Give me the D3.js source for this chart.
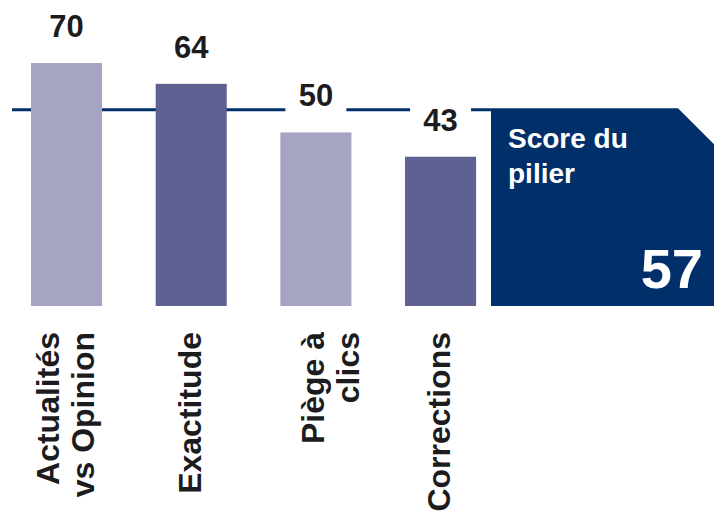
<!DOCTYPE html>
<html>
<head>
<meta charset="utf-8">
<script src="https://cdn.jsdelivr.net/npm/d3@7"></script>
<style>
  html, body { margin: 0; padding: 0; background: #ffffff; }
  svg { display: block; }
  text { font-family: "Liberation Sans", Arial, Helvetica, sans-serif; font-weight: bold; }
</style>
</head>
<body>
<script>
// Pillar sub-scores
const categories = ["Actualités vs Opinion", "Exactitude", "Piège à clics", "Corrections"];
const categoryLines = [["Actualités", "vs Opinion"], ["Exactitude"], ["Piège à", "clics"], ["Corrections"]];
const values = [70, 64, 50, 43];
const pillarLabel = ["Score du", "pilier"];
const pillarScore = 57;

const W = 714, H = 511;
const barColors = ["#a5a5c3", "#5e6191", "#a5a5c3", "#5e6191"];
const navy = "#012f6a";
const ink = "#1c1c1e";

const svg = d3.select("body").append("svg")
  .attr("width", W).attr("height", H);

const x = d3.scaleBand()
  .domain(categories)
  .range([4.2, 502.9])
  .paddingInner(0.43)
  .paddingOuter(0.215);

const y = d3.scaleLinear().domain([0, 70]).range([306, 63]);

const boxLeft = 491;

// Pillar score reference line (drawn beneath the bars)
svg.append("line")
  .attr("x1", 12).attr("x2", boxLeft)
  .attr("y1", y(pillarScore) + 1.5).attr("y2", y(pillarScore) + 1.5)
  .attr("stroke", navy).attr("stroke-width", 3);

// Bars
svg.selectAll("rect.bar")
  .data(values)
  .join("rect")
  .attr("class", "bar")
  .attr("x", (d, i) => x(categories[i]))
  .attr("y", d => y(d))
  .attr("width", x.bandwidth())
  .attr("height", d => y(0) - y(d))
  .attr("fill", (d, i) => barColors[i]);

// Value labels on a white plate so they interrupt the reference line
const valueG = svg.selectAll("g.value")
  .data(values)
  .join("g")
  .attr("class", "value")
  .attr("transform", (d, i) => `translate(${x(categories[i]) + x.bandwidth() / 2},${y(d) - 26})`);

valueG.append("rect")
  .attr("x", -30.5).attr("y", -28)
  .attr("width", 61).attr("height", 36)
  .attr("fill", "#ffffff");

valueG.append("text")
  .attr("text-anchor", "middle")
  .attr("font-size", 31)
  .attr("fill", ink)
  .text(d => d);

// Rotated category labels
const lineGap = 35;
const labelShift = { "Piège à clics": 16 };
const catG = svg.selectAll("g.cat")
  .data(categories)
  .join("g")
  .attr("class", "cat")
  .attr("transform", (c, i) => {
    const n = categoryLines[i].length;
    const cx = x(c) + x.bandwidth() / 2 + (labelShift[c] || 0);
    return `translate(${cx + 9.5 - (n - 1) * lineGap / 2},332) rotate(-90)`;
  });

catG.selectAll("text")
  .data((c, i) => categoryLines[i])
  .join("text")
  .attr("text-anchor", "end")
  .attr("x", 0)
  .attr("y", (d, j) => j * lineGap)
  .attr("font-size", 32)
  .attr("fill", ink)
  .text(d => d);

// Pillar score panel with clipped top-right corner
const panelTop = y(pillarScore), panelBottom = y(0), cut = 36;
svg.append("path")
  .attr("d", `M${boxLeft},${panelTop} H${W - cut} L${W},${panelTop + cut} V${panelBottom} H${boxLeft} Z`)
  .attr("fill", navy);

svg.append("g")
  .selectAll("text")
  .data(pillarLabel)
  .join("text")
  .attr("x", 508)
  .attr("y", (d, i) => 148 + i * lineGap)
  .attr("font-size", 28)
  .attr("fill", "#ffffff")
  .text(d => d);

svg.append("text")
  .attr("x", 703)
  .attr("y", 288)
  .attr("text-anchor", "end")
  .attr("font-size", 56)
  .attr("fill", "#ffffff")
  .text(pillarScore);
</script>
</body>
</html>
